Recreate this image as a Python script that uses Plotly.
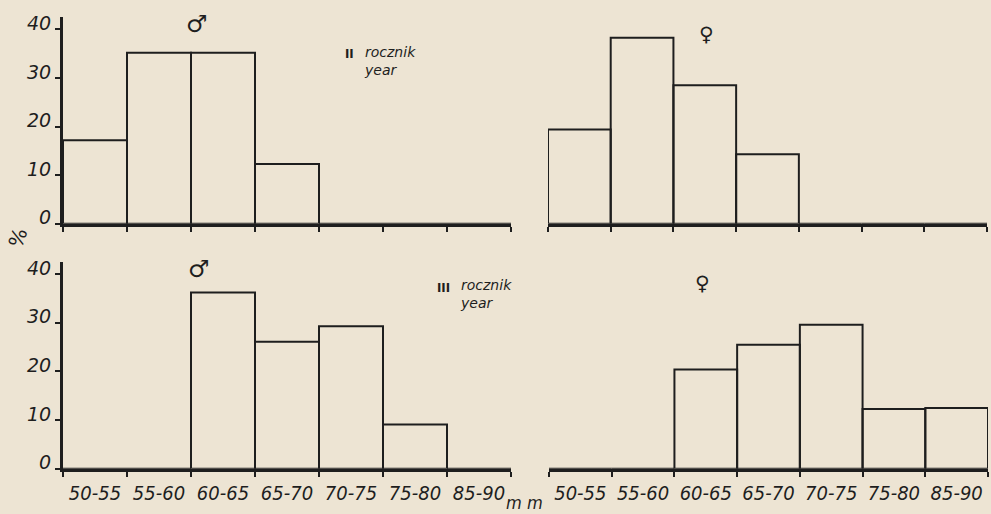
import plotly.graph_objects as go

# ---------------- data ----------------
bins = ["50-55", "55-60", "60-65", "65-70", "70-75", "75-80", "85-90"]
year2_male = [17.2, 35.2, 35.2, 12.3, 0, 0, 0]
year2_female = [19.4, 38.3, 28.5, 14.3, 0, 0, 0]
year3_male = [0, 0, 36.2, 26.1, 29.3, 9.1, 0]
year3_female = [0, 0, 20.4, 25.5, 29.6, 12.3, 12.5]
y_ticks = [0, 10, 20, 30, 40]

centers = [i + 0.5 for i in range(len(bins))]

W, H = 991, 514
BG = "#ede4d3"
INK = "#1e1e1e"


def px(x):
    return x / W


def py(y):
    return 1 - y / H


fig = go.Figure()

panels = [
    (year2_male, "x", "y"),
    (year2_female, "x2", "y2"),
    (year3_male, "x3", "y3"),
    (year3_female, "x4", "y4"),
]
for vals, xa, ya in panels:
    fig.add_trace(go.Bar(
        x=centers, y=vals, width=1, xaxis=xa, yaxis=ya,
        marker=dict(color="rgba(0,0,0,0)", line=dict(color=INK, width=2)),
        showlegend=False, hoverinfo="skip",
    ))

xlabel_font = dict(family="Liberation Sans Narrow, DejaVu Sans Condensed, sans-serif",
                   size=20, color=INK, style="italic")
ylabel_font = dict(family="DejaVu Sans, sans-serif", size=19, color=INK, style="italic")


def xaxis(domain, anchor, labels):
    return dict(
        domain=domain, anchor=anchor, range=[0, len(bins)],
        showline=True, linecolor=INK, linewidth=3,
        showgrid=False, zeroline=False,
        tickmode="array", tickvals=centers, ticktext=bins,
        ticks="", showticklabels=labels, tickfont=xlabel_font,
        ticklabelstandoff=4,
        minor=dict(tickmode="linear", tick0=0, dtick=1, ticks="outside",
                   ticklen=5, tickwidth=2, tickcolor=INK, showgrid=False),
        fixedrange=True,
    )


def yaxis(domain, anchor, visible):
    d = dict(domain=domain, anchor=anchor, range=[0, 42.5],
             showgrid=False, zeroline=False, fixedrange=True)
    if visible:
        d.update(showline=True, linecolor=INK, linewidth=3,
                 tickmode="array", tickvals=y_ticks,
                 ticks="outside", ticklen=5, tickwidth=2, tickcolor=INK,
                 tickfont=ylabel_font, ticklabelshift=-6, ticklabelstandoff=0)
    else:
        d.update(visible=False)
    return d


top_dom = [py(223), py(12.6)]
bot_dom = [py(473), py(262)]
left_dom = [px(63), px(511)]
right_dom_top = [px(548), px(987)]
right_dom_bot = [px(549), px(988)]

fig.update_layout(
    width=W, height=H,
    margin=dict(l=0, r=0, t=0, b=0),
    paper_bgcolor=BG, plot_bgcolor="rgba(0,0,0,0)",
    xaxis=xaxis(left_dom, "y", False),
    yaxis=yaxis(top_dom, "x", True),
    xaxis2=xaxis(right_dom_top, "y2", False),
    yaxis2=yaxis(top_dom, "x2", False),
    xaxis3=xaxis(left_dom, "y3", True),
    yaxis3=yaxis(bot_dom, "x3", True),
    xaxis4=xaxis(right_dom_bot, "y4", True),
    yaxis4=yaxis(bot_dom, "x4", False),
)


def ann(text, x, y, size, italic=False, angle=0, family="DejaVu Sans, sans-serif",
        xanchor="center", yanchor="middle"):
    fig.add_annotation(
        text=text, x=px(x), y=py(y), xref="paper", yref="paper",
        showarrow=False, xanchor=xanchor, yanchor=yanchor, textangle=angle,
        borderpad=0, align="left",
        font=dict(family=family, size=size, color=INK,
                  style="italic" if italic else "normal"),
    )


COND = "DejaVu Sans Condensed, sans-serif"

# sex symbols
ann("♂", 197, 19, 24)
ann("♀", 706, 30, 20)
ann("♂", 199, 269, 24)
ann("♀", 702, 284, 20)

# year labels
ann("<b>II</b>", 349, 49, 13, family=COND)
ann("rocznik<br>year", 363, 57, 14, italic=True, xanchor="left")
ann("<b>III</b>", 443, 288, 13, family=COND)
ann("rocznik<br>year", 459, 295, 14, italic=True, xanchor="left")

# axis units
ann("%", 18, 238, 20, angle=-70)
ann("m m", 524, 507, 18, italic=True, family=COND)

fig.write_html("out.html", post_script="document.body.style.margin='0';",
               config={"displayModeBar": False})
